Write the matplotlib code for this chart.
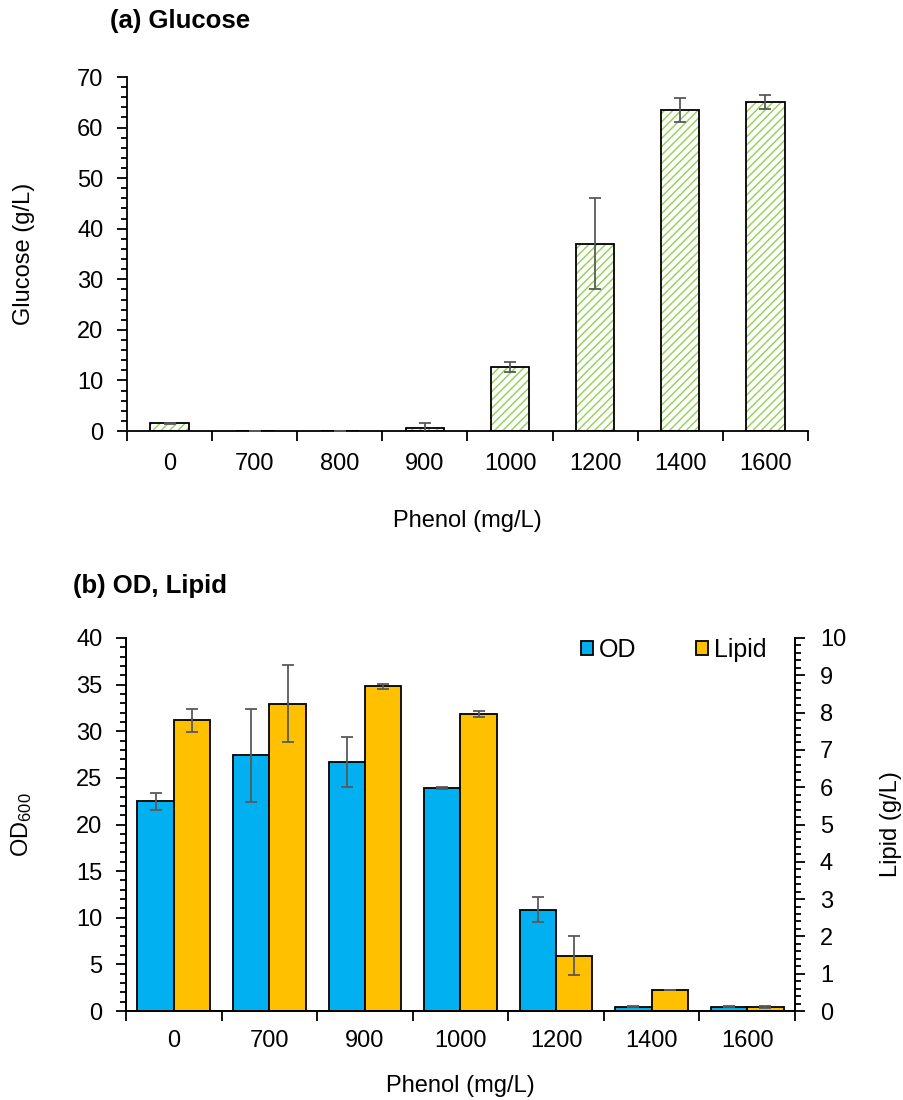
import matplotlib
matplotlib.use("Agg")
import matplotlib.pyplot as plt
import numpy as np
from matplotlib.ticker import MultipleLocator, FixedLocator
from matplotlib.patches import Patch

plt.rcParams['font.family'] = ['Liberation Sans', 'DejaVu Sans']
plt.rcParams['mathtext.default'] = 'regular'
plt.rcParams['hatch.linewidth'] = 1.0

# ---- data panel (a)
phenol_a = ['0', '700', '800', '900', '1000', '1200', '1400', '1600']
glucose = [1.5, 0.05, 0.05, 0.6, 12.7, 37.0, 63.5, 65.0]
glucose_err = [0.1, 0.0, 0.0, 0.9, 1.0, 9.0, 2.3, 1.4]

# ---- data panel (b)
phenol_b = ['0', '700', '900', '1000', '1200', '1400', '1600']
od = [22.5, 27.4, 26.7, 23.95, 10.85, 0.47, 0.45]
od_err = [0.9, 5.0, 2.7, 0.1, 1.35, 0.05, 0.05]
lipid = [7.79, 8.24, 8.70, 7.95, 1.48, 0.56, 0.11]
lipid_err = [0.30, 1.04, 0.08, 0.08, 0.52, 0.01, 0.03]

W, H = 904, 1100
fig = plt.figure(figsize=(W / 100, H / 100), dpi=100)

FS = 17
ERRC = '#595959'

def fx(px):
    return px / W

def fy(py):
    return 1 - py / H

# ---------------- panel (a)
ax1 = fig.add_axes([fx(127), fy(431), fx(808 - 127), (431 - 77) / H])
xa = np.arange(len(phenol_a))
ax1.bar(xa, glucose, width=0.45, color='white', edgecolor='#92D050', hatch='////', linewidth=0, zorder=2)
ax1.bar(xa, glucose, width=0.45, fill=False, edgecolor='black', linewidth=1.3, zorder=3)
ax1.errorbar(xa, glucose, yerr=glucose_err, fmt='none', ecolor=ERRC, elinewidth=1.3,
             capsize=4, capthick=1.3, zorder=4)
ax1.set_xlim(-0.5, len(phenol_a) - 0.5)
ax1.set_ylim(0, 70)
ax1.yaxis.set_major_locator(MultipleLocator(10))
ax1.yaxis.set_minor_locator(MultipleLocator(2))
ax1.set_xticks(xa)
ax1.set_xticklabels(phenol_a)
ax1.xaxis.set_minor_locator(FixedLocator(np.arange(len(phenol_a) + 1) - 0.5))
ax1.tick_params(axis='x', which='major', length=0, pad=16, labelsize=FS)
ax1.tick_params(axis='x', which='minor', length=7, width=1.3, direction='out')
ax1.tick_params(axis='y', which='major', length=7, width=1.3, direction='out', pad=10, labelsize=FS)
ax1.tick_params(axis='y', which='minor', length=4, width=1.3, direction='out')
for s in ['top', 'right']:
    ax1.spines[s].set_visible(False)
for s in ['left', 'bottom']:
    ax1.spines[s].set_linewidth(1.3)
ax1.set_xlabel('Phenol (mg/L)', fontsize=FS, labelpad=25)
ax1.set_ylabel('Glucose (g/L)', fontsize=FS, labelpad=30)
fig.text(fx(110), fy(21), '(a) Glucose', fontsize=18.5, fontweight='bold', va='center', ha='left')

# ---------------- panel (b)
ax2 = fig.add_axes([fx(126), fy(1011), fx(795 - 126), (1011 - 638) / H])
ax3 = ax2.twinx()
xb = np.arange(len(phenol_b))
bw = 0.38
ax2.bar(xb - bw / 2, od, width=bw, color='#00B0F0', edgecolor='black', linewidth=1.3, zorder=2)
ax2.errorbar(xb - bw / 2, od, yerr=od_err, fmt='none', ecolor=ERRC, elinewidth=1.3,
             capsize=4, capthick=1.3, zorder=4)
ax3.bar(xb + bw / 2, lipid, width=bw, color='#FFC000', edgecolor='black', linewidth=1.3, zorder=2)
ax3.errorbar(xb + bw / 2, lipid, yerr=lipid_err, fmt='none', ecolor=ERRC, elinewidth=1.3,
             capsize=4, capthick=1.3, zorder=4)
ax2.set_xlim(-0.5, len(phenol_b) - 0.5)
ax2.set_ylim(0, 40)
ax3.set_ylim(0, 10)
ax2.yaxis.set_major_locator(MultipleLocator(5))
ax2.yaxis.set_minor_locator(MultipleLocator(1))
ax3.yaxis.set_major_locator(MultipleLocator(1))
ax3.yaxis.set_minor_locator(MultipleLocator(0.2))
ax2.set_xticks(xb)
ax2.set_xticklabels(phenol_b)
ax2.xaxis.set_minor_locator(FixedLocator(np.arange(len(phenol_b) + 1) - 0.5))
ax2.tick_params(axis='x', which='major', length=0, pad=14, labelsize=FS)
ax2.tick_params(axis='x', which='minor', length=7, width=1.3, direction='out')
ax2.tick_params(axis='y', which='major', length=7, width=1.3, direction='out', pad=10, labelsize=FS)
ax2.tick_params(axis='y', which='minor', length=4, width=1.3, direction='out')
ax3.tick_params(axis='y', which='major', length=7, width=1.3, direction='out', pad=11, labelsize=FS)
ax3.tick_params(axis='y', which='minor', length=4, width=1.3, direction='out')
for a in (ax2, ax3):
    a.spines['top'].set_visible(False)
    for s in ['left', 'bottom', 'right']:
        a.spines[s].set_linewidth(1.3)
ax2.set_xlabel('Phenol (mg/L)', fontsize=FS, labelpad=16)
ax2.set_ylabel('OD$_{600}$', fontsize=FS, labelpad=30)
ax3.set_ylabel('Lipid (g/L)', fontsize=FS, labelpad=24)
fig.text(fx(73), fy(586), '(b) OD, Lipid', fontsize=18.5, fontweight='bold', va='center', ha='left')

handles = [Patch(facecolor='#00B0F0', edgecolor='black', linewidth=1.3, label='OD'),
           Patch(facecolor='#FFC000', edgecolor='black', linewidth=1.3, label='Lipid')]
ax3.legend(handles=handles, ncol=2, loc='upper right', bbox_to_anchor=(0.972, 1.027),
           borderaxespad=0, frameon=False, fontsize=18, handlelength=0.45, handleheight=0.45,
           handletextpad=0.25, columnspacing=2.4)

fig.savefig('out.png', dpi=100)
